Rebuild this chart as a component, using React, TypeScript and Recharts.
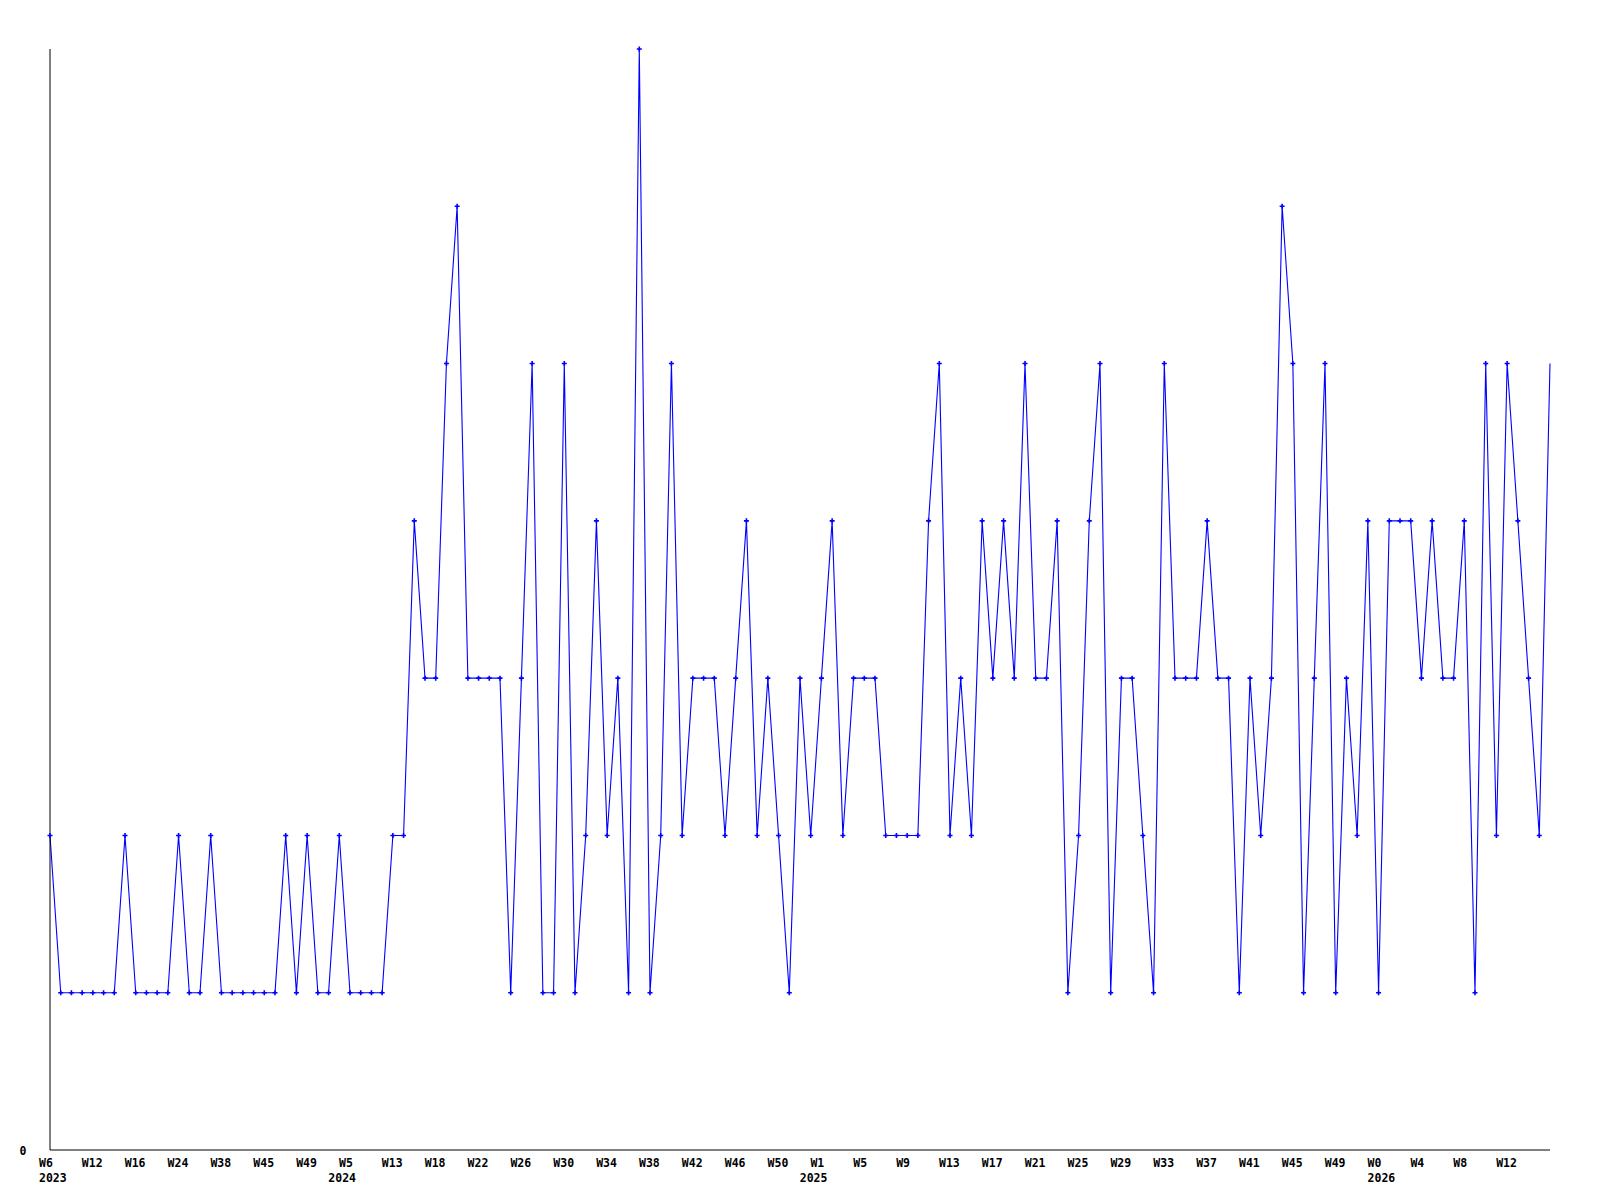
import { LineChart, Line, XAxis, YAxis, ReferenceDot } from "recharts";

// weekly counts, one point per week
const counts = [
  2, 1, 1, 1, 1, 1, 1, 2, 1, 1, 1, 1, 2, 1, 1, 2, 1, 1, 1, 1, 1, 1, 2, 1, 2, 1, 1, 2, 1, 1, 1, 1, 2, 2,
  4, 3, 3, 5, 6, 3, 3, 3, 3, 1, 3, 5, 1, 1, 5, 1, 2, 4, 2, 3, 1, 7,
  1, 2, 5, 2, 3, 3, 3, 2, 3, 4, 2, 3, 2, 1, 3, 2, 3, 4, 2, 3, 3,
  3, 2, 2, 2, 2, 4, 5, 2, 3, 2, 4, 3, 4, 3, 5, 3, 3, 4, 1, 2, 4, 5,
  1, 3, 3, 2, 1, 5, 3, 3, 3, 4, 3, 3, 1, 3, 2, 3, 6, 5, 1, 3, 5,
  1, 3, 2, 4, 1, 4, 4, 4, 3, 4, 3, 3, 4, 1, 5, 2, 5, 4, 3, 2, 5,
];

// one label every 4th week
const weekTicks = [
  "W6", "W12", "W16", "W24", "W38", "W45", "W49", "W5", "W13", "W18", "W22", "W26",
  "W30", "W34", "W38", "W42", "W46", "W50", "W1", "W5", "W9", "W13", "W17", "W21",
  "W25", "W29", "W33", "W37", "W41", "W45", "W49", "W0", "W4", "W8", "W12",
];

// year captions, placed at the week (data index) where each year starts
const yearIdx = [0, 27, 71, 124];
const yearNames = ["2023", "2024", "2025", "2026"];

const TICK_EVERY = 4;
const FONT = "'DejaVu Sans Mono', monospace";
const FONT_SIZE = 11.5;

const data = counts.map((value, idx) => ({ idx, value }));

// labels are left-aligned a little before their point, like the original
function WeekTick(props: any) {
  const { x, y, payload } = props;
  const t = payload.value / TICK_EVERY;
  return (
    <text x={x - 11} y={y + 9} textAnchor="start" fontFamily={FONT} fontWeight="bold" fontSize={FONT_SIZE} fill="#000">
      {weekTicks[t]}
    </text>
  );
}

function ZeroTick(props: any) {
  const { x, y, payload } = props;
  return (
    <text x={x - 19} y={y + 5} textAnchor="middle" fontFamily={FONT} fontWeight="bold" fontSize={FONT_SIZE} fill="#000">
      {payload.value}
    </text>
  );
}

// small "+" marker; last point has none in the original
function CrossDot(props: any) {
  const { cx, cy, index } = props;
  if (index === counts.length - 1 || cx == null) return <g key={index} />;
  return (
    <path
      key={index}
      d={`M${cx - 2.5},${cy} H${cx + 2.5} M${cx},${cy - 2.5} V${cy + 2.5}`}
      stroke="#0000ff"
      strokeWidth={1.6}
      fill="none"
    />
  );
}

export default function App() {
  return (
    <div style={{ position: "absolute", left: 0, top: 0, background: "#fff" }}>
      <LineChart width={1600} height={1200} data={data} margin={{ top: 49, right: 50, bottom: 0, left: 0 }}>
        <XAxis
          dataKey="idx"
          interval={TICK_EVERY - 1}
          tickLine={false}
          axisLine={{ stroke: "#000" }}
          height={50}
          tick={<WeekTick />}
        />
        <YAxis
          domain={[0, 7]}
          ticks={[0]}
          width={50}
          tickLine={false}
          axisLine={{ stroke: "#000" }}
          tick={<ZeroTick />}
        />
        <Line
          type="linear"
          dataKey="value"
          stroke="#0000ff"
          strokeWidth={1.1}
          dot={<CrossDot />}
          activeDot={false}
          isAnimationActive={false}
        />
        {yearIdx.map((ix, i) => (
          <ReferenceDot
            key={yearNames[i]}
            x={ix}
            y={0}
            r={0}
            fill="none"
            stroke="none"
            ifOverflow="visible"
            label={(p: any) => (
              <text
                x={p.viewBox.x - 11}
                y={p.viewBox.y + 32}
                textAnchor="start"
                fontFamily={FONT}
                fontWeight="bold"
                fontSize={FONT_SIZE}
                fill="#000"
              >
                {yearNames[i]}
              </text>
            )}
          />
        ))}
      </LineChart>
    </div>
  );
}
